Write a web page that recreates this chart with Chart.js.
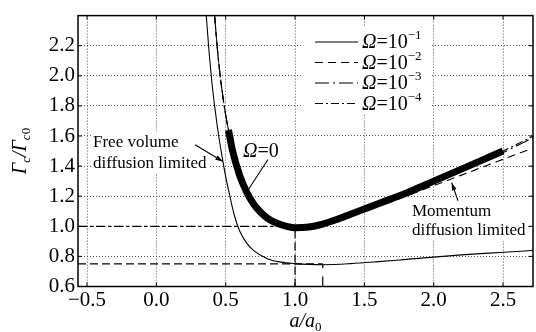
<!DOCTYPE html>
<html>
<head>
<meta charset="utf-8">
<script src="https://cdn.jsdelivr.net/npm/chart.js@4.4.0/dist/chart.umd.min.js"></script>
<style>
  html, body { margin: 0; padding: 0; background: #fff; }
  #wrap { width: 536px; height: 332px; }
</style>
</head>
<body>
<div id="wrap"><canvas id="gammaChart" width="536" height="332"></canvas></div>
<script>
// values
const xTicks = [-0.5, 0.0, 0.5, 1.0, 1.5, 2.0, 2.5];
const yTicks = [0.6, 0.8, 1.0, 1.2, 1.4, 1.6, 1.8, 2.0, 2.2];
const xRange = [-0.565, 2.716];
const yRange = [0.6, 2.4];

// Omega = 0 (thick curve)
const omega0X = [0.52, 0.55, 0.60, 0.65, 0.70, 0.75, 0.80, 0.87, 0.94, 1.00, 1.10, 1.20, 1.30, 1.40, 1.50, 1.60, 1.70, 1.80, 1.90, 2.00, 2.10, 2.20, 2.30, 2.40, 2.50];
const omega0Y = [1.64, 1.50, 1.34, 1.23, 1.15, 1.095, 1.055, 1.02, 1.00, 0.99, 0.995, 1.015, 1.045, 1.08, 1.115, 1.15, 1.185, 1.22, 1.26, 1.30, 1.34, 1.38, 1.42, 1.46, 1.50];

// Omega = 1e-4 / 1e-3 / 1e-2 (close to the thick curve)
const omegaSmallX = [0.42, 0.44, 0.46, 0.48, 0.50, 0.52, 0.55, 0.60, 0.65, 0.70, 0.75, 0.80, 0.87, 0.94, 1.00, 1.10, 1.20, 1.30, 1.40, 1.50, 1.60, 1.70, 1.80, 1.90, 2.00, 2.10, 2.20, 2.30, 2.40, 2.50, 2.60, 2.72];
const omega4Y = [2.40, 2.18, 2.00, 1.86, 1.74, 1.64, 1.50, 1.34, 1.23, 1.15, 1.095, 1.055, 1.02, 1.00, 0.99, 0.995, 1.015, 1.045, 1.08, 1.115, 1.15, 1.185, 1.22, 1.26, 1.30, 1.34, 1.38, 1.42, 1.46, 1.50, 1.545, 1.60];
const omega3Y = [2.40, 2.18, 2.00, 1.86, 1.74, 1.64, 1.50, 1.34, 1.23, 1.15, 1.095, 1.055, 1.02, 1.00, 0.99, 0.995, 1.015, 1.045, 1.08, 1.112, 1.145, 1.18, 1.215, 1.252, 1.29, 1.33, 1.37, 1.41, 1.45, 1.49, 1.535, 1.59];
const omega2Y = [2.40, 2.18, 2.00, 1.86, 1.74, 1.64, 1.50, 1.34, 1.23, 1.15, 1.095, 1.055, 1.02, 1.00, 0.99, 0.995, 1.012, 1.04, 1.072, 1.105, 1.135, 1.165, 1.20, 1.235, 1.27, 1.305, 1.34, 1.375, 1.41, 1.445, 1.48, 1.52];

// Omega = 1e-1 (lower thin solid curve)
const omega1X = [0.36, 0.38, 0.40, 0.42, 0.44, 0.46, 0.48, 0.50, 0.53, 0.56, 0.60, 0.65, 0.70, 0.80, 0.90, 1.00, 1.10, 1.20, 1.40, 1.60, 1.80, 2.00, 2.20, 2.40, 2.60, 2.72];
const omega1Y = [2.40, 2.16, 1.96, 1.80, 1.66, 1.54, 1.43, 1.33, 1.20, 1.08, 0.97, 0.89, 0.84, 0.785, 0.762, 0.752, 0.747, 0.745, 0.752, 0.765, 0.78, 0.795, 0.81, 0.822, 0.833, 0.84];

// reference levels: minimum of Omega=0 and of Omega=1e-1
const refX = [1.0, 1.2];
const refY = [1.0, 0.75];

const legendExp = ['\u22121', '\u22122', '\u22123', '\u22124'];
const legendDash = [[], [8, 5], [14, 4, 2, 4], [8, 3, 2, 3]];

const serif = "'Liberation Serif', 'Times New Roman', serif";
Chart.defaults.font.family = serif;
Chart.defaults.color = '#000';

function pts(xs, ys) {
  return xs.map((x, i) => ({ x: x, y: ys[i] }));
}

function curve(label, xs, ys, dash, width, order) {
  return {
    label: label,
    data: pts(xs, ys),
    borderColor: '#000',
    borderWidth: width,
    borderDash: dash,
    pointRadius: 0,
    fill: false,
    cubicInterpolationMode: 'monotone',
    order: order
  };
}

const datasets = [
  curve('Ω=0', omega0X, omega0Y, [], 7, 0),
  curve('Ω=10-1', omega1X, omega1Y, legendDash[0], 1.1, 5),
  curve('Ω=10-2', omegaSmallX, omega2Y, legendDash[1], 1.1, 4),
  curve('Ω=10-3', omegaSmallX, omega3Y, legendDash[2], 1.1, 3),
  curve('Ω=10-4', omegaSmallX, omega4Y, legendDash[3], 1.1, 2),
  // reference guides
  curve('h1', [xRange[0], refX[0]], [refY[0], refY[0]], [9, 3, 3, 3], 1.2, 6),
  curve('v1', [refX[0], refX[0]], [yRange[0], refY[0]], [8, 4], 1.2, 6),
  curve('h2', [xRange[0], refX[1]], [refY[1], refY[1]], [8, 4], 1.2, 6),
  curve('v2', [refX[1], refX[1]], [yRange[0], refY[1]], [10, 8], 1.2, 6)
];

function fmt(v) {
  const s = Math.abs(v).toFixed(1);
  return v < -1e-9 ? '\u2212' + s : s;
}

// draws a run of text pieces (font, text, dy) starting at x
function runText(c, pieces, x, y) {
  let cx = x;
  pieces.forEach(p => {
    c.font = p.f;
    c.fillText(p.t, cx, y + (p.dy || 0));
    cx += c.measureText(p.t).width;
  });
  return cx;
}
function runWidth(c, pieces) {
  let w = 0;
  pieces.forEach(p => { c.font = p.f; w += c.measureText(p.t).width; });
  return w;
}

function arrow(c, x1, y1, x2, y2, head) {
  c.beginPath(); c.moveTo(x1, y1); c.lineTo(x2, y2); c.stroke();
  if (!head) return;
  const a = Math.atan2(y2 - y1, x2 - x1);
  c.beginPath();
  c.moveTo(x2, y2);
  c.lineTo(x2 - 8 * Math.cos(a - 0.3), y2 - 8 * Math.sin(a - 0.3));
  c.lineTo(x2 - 8 * Math.cos(a + 0.3), y2 - 8 * Math.sin(a + 0.3));
  c.closePath(); c.fill();
}

const notes = {
  free: { x: -0.457, y1: 1.555, y2: 1.418, lines: ['Free volume', 'diffusion limited'] },
  mom: { x: 1.843, y1: 1.10, y2: 0.97, lines: ['Momentum', 'diffusion limited'] }
};

const overlay = {
  id: 'overlay',
  beforeDatasetsDraw(chart) {
    const c = chart.ctx, xs = chart.scales.x, ys = chart.scales.y;
    c.save();
    c.fillStyle = '#fff';
    // legend box
    c.fillRect(303, 26, 129, 88);
    c.font = '17px ' + serif;
    Object.values(notes).forEach(n => {
      const w = Math.max(...n.lines.map(l => c.measureText(l).width));
      const px = xs.getPixelForValue(n.x);
      c.fillRect(px - 2, ys.getPixelForValue(n.y1) - 10, w + 4, ys.getPixelForValue(n.y2) - ys.getPixelForValue(n.y1) + 20);
    });
    c.restore();
  },
  afterDatasetsDraw(chart) {
    const c = chart.ctx, a = chart.chartArea, xs = chart.scales.x, ys = chart.scales.y;
    c.save();
    c.fillStyle = '#000';
    c.strokeStyle = '#000';

    // frame + inward ticks
    c.lineWidth = 1.5;
    c.strokeRect(a.left, a.top, a.right - a.left, a.bottom - a.top);
    c.lineWidth = 1;
    c.beginPath();
    xTicks.forEach(v => {
      const p = xs.getPixelForValue(v);
      c.moveTo(p, a.bottom); c.lineTo(p, a.bottom - 4);
      c.moveTo(p, a.top); c.lineTo(p, a.top + 4);
    });
    yTicks.forEach(v => {
      const p = ys.getPixelForValue(v);
      c.moveTo(a.left, p); c.lineTo(a.left + 4, p);
      c.moveTo(a.right, p); c.lineTo(a.right - 4, p);
    });
    c.stroke();

    // legend
    c.textBaseline = 'middle';
    c.textAlign = 'left';
    legendExp.forEach((e, i) => {
      const y = 42 + i * 20.5;
      c.lineWidth = 1.1;
      c.setLineDash(legendDash[i]);
      c.beginPath(); c.moveTo(315, y); c.lineTo(358, y); c.stroke();
      c.setLineDash([]);
      runText(c, [
        { f: 'italic 20px ' + serif, t: 'Ω' },
        { f: '20px ' + serif, t: '=10' },
        { f: '13px ' + serif, t: e, dy: -7 }
      ], 362, y + 1);
    });

    // notes
    Object.values(notes).forEach(n => {
      const px = xs.getPixelForValue(n.x);
      c.font = '17px ' + serif;
      c.fillText(n.lines[0], px, ys.getPixelForValue(n.y1));
      c.fillText(n.lines[1], px, ys.getPixelForValue(n.y2));
    });
    c.lineWidth = 1.1;
    arrow(c, xs.getPixelForValue(0.279), ys.getPixelForValue(1.542), xs.getPixelForValue(0.48), ys.getPixelForValue(1.43), true);
    arrow(c, xs.getPixelForValue(2.175), ys.getPixelForValue(1.17), xs.getPixelForValue(2.13), ys.getPixelForValue(1.29), true);
    // Omega = 0 label
    arrow(c, xs.getPixelForValue(0.805), ys.getPixelForValue(1.444), xs.getPixelForValue(0.646), ys.getPixelForValue(1.22), false);
    runText(c, [
      { f: 'italic 20px ' + serif, t: 'Ω' },
      { f: '20px ' + serif, t: '=0' }
    ], xs.getPixelForValue(0.625), ys.getPixelForValue(1.496));

    // axis titles
    c.textBaseline = 'alphabetic';
    const xt = [
      { f: 'italic 20px ' + serif, t: 'a/a' },
      { f: '13px ' + serif, t: '0', dy: 4 }
    ];
    runText(c, xt, (a.left + a.right) / 2 - runWidth(c, xt) / 2, 327);

    const yt = [
      { f: 'italic 20px ' + serif, t: 'Γ' },
      { f: 'italic 13px ' + serif, t: 'c', dy: 4 },
      { f: 'italic 20px ' + serif, t: '/Γ' },
      { f: 'italic 13px ' + serif, t: 'c', dy: 4 },
      { f: '13px ' + serif, t: '0', dy: 4 }
    ];
    c.translate(26, (a.top + a.bottom) / 2);
    c.rotate(-Math.PI / 2);
    runText(c, yt, -runWidth(c, yt) / 2, 0);
    c.restore();
  }
};

const tickFont = { family: serif, size: 21 };

new Chart(document.getElementById('gammaChart').getContext('2d'), {
  type: 'line',
  data: { datasets: datasets },
  options: {
    responsive: false,
    animation: false,
    devicePixelRatio: 1,
    layout: { padding: { top: 12.5, right: 3, left: 0, bottom: 0 } },
    plugins: { legend: { display: false }, tooltip: { enabled: false } },
    scales: {
      x: {
        type: 'linear',
        min: xRange[0],
        max: xRange[1],
        afterBuildTicks: s => { s.ticks = xTicks.map(v => ({ value: v })); },
        afterFit: s => { s.height = 45.5; },
        ticks: { callback: v => fmt(v), font: tickFont, color: '#000', padding: 1, maxRotation: 0, autoSkip: false },
        grid: { color: '#555', lineWidth: 1, drawTicks: false },
        border: { display: false, dash: [1, 2] }
      },
      y: {
        type: 'linear',
        min: yRange[0],
        max: yRange[1],
        afterBuildTicks: s => { s.ticks = yTicks.map(v => ({ value: v })); },
        afterFit: s => { s.width = 78; },
        ticks: { callback: v => fmt(v), font: tickFont, color: '#000', padding: 3, autoSkip: false },
        grid: { color: '#555', lineWidth: 1, drawTicks: false },
        border: { display: false, dash: [1, 2] }
      }
    }
  },
  plugins: [overlay]
});
</script>
</body>
</html>
